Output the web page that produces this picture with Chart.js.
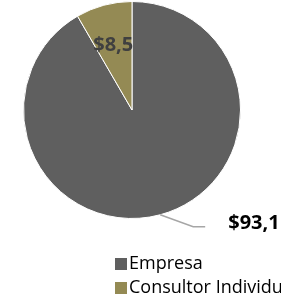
<!DOCTYPE html>
<html>
<head>
<meta charset="utf-8">
<script src="https://cdn.jsdelivr.net/npm/chart.js@4.4.1/dist/chart.umd.min.js"></script>
<style>
  html, body { margin: 0; padding: 0; background: #fff; }
  #wrap { width: 281px; height: 300px; }
</style>
</head>
<body>
<div id="wrap"><canvas id="pieChart" width="281" height="300"></canvas></div>
<script>
// data
var categories = ['Empresa', 'Consultor Individual'];
var values = [93.1, 8.5];
var colors = ['#5f5f5f', '#948a54'];

function fmt(v) {
    return '$' + v.toFixed(1).replace('.', ',');
}

// labels on the slices + custom legend
var labelPlugin = {
    id: 'sliceLabels',
    afterDraw: function (chart) {
        var ctx = chart.ctx;
        var meta = chart.getDatasetMeta(0);
        ctx.save();

        meta.data.forEach(function (arc, i) {
            var p = arc.getProps(['x', 'y', 'startAngle', 'endAngle', 'outerRadius'], true);
            var mid = (p.startAngle + p.endAngle) / 2;
            var txt = fmt(values[i]);
            if (i === 0) {
                // outside label with leader line
                var sx = p.x + Math.cos(mid) * p.outerRadius;
                var sy = p.y + Math.sin(mid) * p.outerRadius;
                var ex = sx + 33, ey = sy + 12;
                ctx.strokeStyle = '#a6a6a6';
                ctx.lineWidth = 1.5;
                ctx.beginPath();
                ctx.moveTo(sx, sy);
                ctx.lineTo(ex, ey);
                ctx.lineTo(ex + 12, ey);
                ctx.stroke();
                ctx.fillStyle = '#000';
                ctx.font = 'bold 20px "Open Sans", sans-serif';
                ctx.textAlign = 'left';
                ctx.textBaseline = 'middle';
                ctx.fillText(txt, ex + 35, ey - 3);
            } else {
                var r = p.outerRadius * 0.63;
                ctx.fillStyle = '#404040';
                ctx.font = 'bold 20px "Open Sans", sans-serif';
                ctx.textAlign = 'center';
                ctx.textBaseline = 'middle';
                ctx.fillText(txt, p.x + Math.cos(mid) * r - 1, p.y + Math.sin(mid) * r + 1);
            }
        });

        // legend
        ctx.font = '18px "Open Sans", sans-serif';
        ctx.textAlign = 'left';
        ctx.textBaseline = 'middle';
        categories.forEach(function (c, i) {
            var y = 264 + i * 24;
            ctx.fillStyle = colors[i];
            ctx.fillRect(115, y - 6, 12, 12);
            ctx.fillStyle = '#000';
            ctx.fillText(c, 129, y);
        });
        ctx.restore();
    }
};

var PIECHART = document.getElementById('pieChart');
var pieChart = new Chart(PIECHART, {
    type: 'pie',
    data: {
        labels: categories,
        datasets: [{
            data: values,
            backgroundColor: colors,
            borderColor: '#ffffff',
            borderWidth: 1
        }]
    },
    options: {
        responsive: false,
        animation: false,
        layout: { padding: { left: 23, right: 40, top: 1, bottom: 81 } },
        plugins: {
            legend: { display: false },
            tooltip: { enabled: false }
        }
    },
    plugins: [labelPlugin]
});
</script>
</body>
</html>
